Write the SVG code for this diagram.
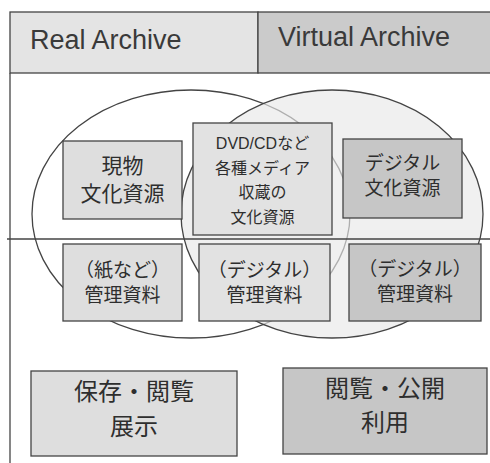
<svg xmlns="http://www.w3.org/2000/svg" width="490" height="463" viewBox="0 0 490 463">
<style>
.ln{stroke:#444;stroke-width:1.3;fill:none}
.bx{stroke:#444;stroke-width:1.3}
.lt{fill:#dedede}
.md{fill:#e2e2e2}
.dk{fill:#c6c6c6}
text{font-family:"Liberation Sans","Noto Sans CJK JP",sans-serif;fill:#2e2e2e;text-anchor:middle}
.hd{font-family:"Liberation Sans",Arial,sans-serif;font-size:27px;text-anchor:start;fill:#3a3a3a}
</style>
<rect width="490" height="463" fill="#ffffff"/>
<g id="header">
<rect x="10" y="12" width="248" height="61" fill="#e4e4e4" class="bx"/>
<rect x="258" y="12" width="235" height="61" fill="#cbcbcb" class="bx"/>
<text class="hd" x="30" y="49">Real Archive</text>
<text class="hd" x="278" y="46">Virtual Archive</text>
</g>
<g id="connectors">
<line class="ln" x1="10" y1="73" x2="10" y2="463"/>
<ellipse class="ln" cx="191" cy="214" rx="159" ry="124"/>
<ellipse cx="332" cy="214" rx="151" ry="124" fill="#e8e8e8" fill-opacity="0.65" stroke="#444" stroke-width="1.3"/>
<line class="ln" x1="7" y1="239" x2="490" y2="239"/>
</g>
<g id="n1">
<rect x="63" y="141" width="119" height="78" class="bx lt"/>
<text x="122.5" y="173" font-size="21">現物</text>
<text x="122.5" y="201" font-size="21">文化資源</text>
</g>
<g id="n2">
<rect x="193" y="123" width="139" height="112" class="bx md"/>
<text x="262.5" y="149" font-size="16">DVD/CDなど</text>
<text x="262.5" y="174" font-size="16">各種メディア</text>
<text x="262.5" y="198" font-size="16">収蔵の</text>
<text x="262.5" y="223" font-size="16">文化資源</text>
</g>
<g id="n3">
<rect x="343" y="139" width="119" height="79" class="bx dk"/>
<text x="402.5" y="170" font-size="19">デジタル</text>
<text x="402.5" y="195" font-size="19">文化資源</text>
</g>
<g id="n4">
<rect x="63" y="244" width="119" height="77" class="bx lt"/>
<text x="122.5" y="277" font-size="19">（紙など）</text>
<text x="122.5" y="302" font-size="19">管理資料</text>
</g>
<g id="n5">
<rect x="199" y="244" width="131" height="77" class="bx md"/>
<text x="264.5" y="277" font-size="19">（デジタル）</text>
<text x="264.5" y="302" font-size="19">管理資料</text>
</g>
<g id="n6">
<rect x="349" y="244" width="132" height="77" class="bx dk"/>
<text x="415" y="276" font-size="19">（デジタル）</text>
<text x="415" y="301" font-size="19">管理資料</text>
</g>
<g id="n7">
<rect x="31" y="371" width="206" height="85" class="bx lt"/>
<text x="134" y="400" font-size="24">保存・閲覧</text>
<text x="134" y="435" font-size="24">展示</text>
</g>
<g id="n8">
<rect x="283" y="368" width="204" height="86" class="bx dk"/>
<text x="385" y="397" font-size="24">閲覧・公開</text>
<text x="385" y="431" font-size="24">利用</text>
</g>
</svg>
